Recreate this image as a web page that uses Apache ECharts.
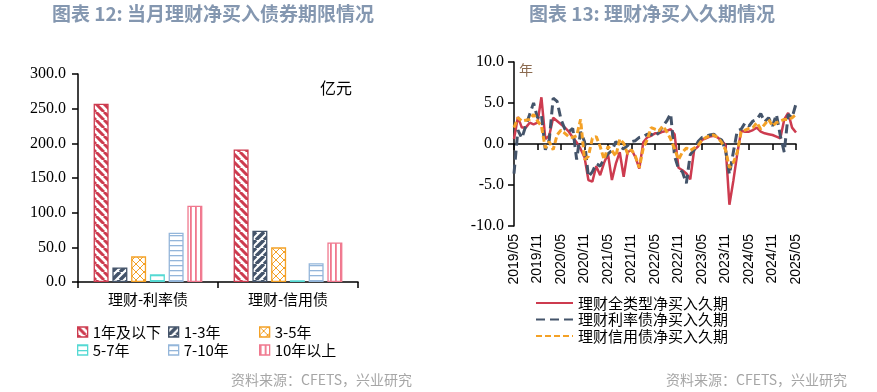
<!DOCTYPE html>
<html><head><meta charset="utf-8">
<script src="https://cdn.jsdelivr.net/npm/echarts@6/dist/echarts.min.js"></script>
<style>html,body{margin:0;padding:0;background:#fff}#c{width:877px;height:392px}</style>
</head><body><div id="c"></div>
<script>
// ---------- Left chart data (亿元) ----------
const barCategories = ['理财-利率债', '理财-信用债'];
const termNames = ['1年及以下', '1-3年', '3-5年', '5-7年', '7-10年', '10年以上'];
const term1yAndBelow = [257, 191];
const term1to3y = [21, 74];
const term3to5y = [37, 50];
const term5to7y = [11, 2.5];
const term7to10y = [71, 27];
const term10yPlus = [110, 57];

// ---------- Right chart data (年) ----------
const months = [
 '2019/05','2019/06','2019/07','2019/08','2019/09','2019/10','2019/11','2019/12',
 '2020/01','2020/02','2020/03','2020/04','2020/05','2020/06','2020/07','2020/08','2020/09','2020/10','2020/11','2020/12',
 '2021/01','2021/02','2021/03','2021/04','2021/05','2021/06','2021/07','2021/08','2021/09','2021/10','2021/11','2021/12',
 '2022/01','2022/02','2022/03','2022/04','2022/05','2022/06','2022/07','2022/08','2022/09','2022/10','2022/11','2022/12',
 '2023/01','2023/02','2023/03','2023/04','2023/05','2023/06','2023/07','2023/08','2023/09','2023/10','2023/11','2023/12',
 '2024/01','2024/02','2024/03','2024/04','2024/05','2024/06','2024/07','2024/08','2024/09','2024/10','2024/11','2024/12',
 '2025/01','2025/02','2025/03','2025/04','2025/05'];
const durationAll = [
 0.6,3.3,2.0,2.0,2.6,2.4,2.6,5.7,0.6,1.0,3.2,2.8,2.4,2.0,1.5,0.8,0.2,-0.6,-1.6,-4.4,
 -4.6,-2.7,-3.8,-2.3,-1.2,-4.4,-2.4,-1.0,-4.0,-1.0,-0.7,-1.6,-3.0,0.2,0.8,1.0,1.3,1.3,1.5,1.6,
 1.8,1.2,-2.9,-3.2,-3.6,-4.3,-0.7,-0.3,0.5,0.7,0.9,1.0,0.8,0.4,-0.1,-7.4,-4.5,-1.2,1.6,1.5,
 1.5,1.7,2.0,1.5,1.3,1.2,1.1,0.9,0.7,3.0,3.8,2.0,1.4];
const durationRate = [
 -3.6,1.7,0.7,2.2,3.6,5.0,3.2,3.6,-0.7,0.5,5.6,5.2,3.0,1.8,1.5,1.9,-1.9,1.5,0.3,-4.0,
 -3.4,-2.4,-2.7,-1.8,-1.2,-0.8,0.3,-0.3,-0.6,-0.2,0.3,0.4,0.8,0.9,1.2,1.2,0.9,1.4,2.2,2.8,
 3.7,-1.5,-3.0,-3.4,-4.8,-1.3,-0.7,0.3,0.8,0.9,1.1,1.2,0.8,0.5,-0.7,-3.7,-1.0,1.6,1.8,2.6,
 2.2,2.8,3.0,3.7,2.7,3.2,2.2,3.6,1.0,-1.0,3.6,3.2,4.9];
const durationCredit = [
 2.0,3.2,2.8,2.9,3.0,3.6,2.8,2.2,-0.5,0.3,-0.7,1.1,1.7,1.3,0.9,0.8,1.0,3.0,-1.9,-1.5,
 0.7,0.9,-0.3,-1.9,-0.3,-0.8,-1.5,0.6,0.1,-1.2,-0.7,-1.5,-2.9,-0.5,0.5,2.0,1.8,1.6,2.2,1.5,
 0.6,-0.6,-1.9,-1.0,-0.5,-0.8,-0.5,-0.2,0.5,0.8,1.0,1.1,0.8,0.2,-0.7,-2.9,-2.3,-1.0,1.5,1.7,
 1.9,2.0,2.6,1.8,2.4,3.0,2.2,2.6,2.8,3.0,3.0,3.2,3.6];
const lineNames = ['理财全类型净买入久期', '理财利率债净买入久期', '理财信用债净买入久期'];

// ---------- patterns ----------
function tile(w, h, draw) {
  const c = document.createElement('canvas'); c.width = w; c.height = h;
  const g = c.getContext('2d'); g.fillStyle = '#fff'; g.fillRect(0, 0, w, h); draw(g, w, h);
  return { image: c, repeat: 'repeat' };
}
function diag(color, s, lw, dir) {
  return tile(s, s, g => {
    g.strokeStyle = color; g.lineWidth = lw; g.beginPath();
    for (let k = -1; k <= 1; k++) {
      if (dir > 0) { g.moveTo(k * s, 0); g.lineTo(k * s + s, s); }
      else { g.moveTo(k * s, s); g.lineTo(k * s + s, 0); }
    }
    g.stroke();
  });
}
function lattice(color, s, lw) {
  return tile(s, s, g => {
    g.strokeStyle = color; g.lineWidth = lw; g.beginPath();
    for (let k = -1; k <= 1; k++) {
      g.moveTo(k * s, 0); g.lineTo(k * s + s, s);
      g.moveTo(k * s, s); g.lineTo(k * s + s, 0);
    }
    g.stroke();
  });
}
function hlines(color, p, lw) { return tile(4, p, (g) => { g.fillStyle = color; g.fillRect(0, 0, 4, lw); }); }
function vlines(color, p, lw) { return tile(p, 4, (g) => { g.fillStyle = color; g.fillRect(0, 0, lw, 4); }); }

const C_RED = '#cd3b4f', C_NAVY = '#44546a', C_ORANGE = '#f4a126', C_CYAN = '#55d9d3', C_LBLUE = '#94b6da', C_PINK = '#f0788e';
const barColors = [C_RED, C_NAVY, C_ORANGE, C_CYAN, C_LBLUE, C_PINK];
const barFills = [
  diag(C_RED, 8, 3, 1), diag(C_NAVY, 8, 3.5, -1), lattice(C_ORANGE, 8, 1),
  hlines(C_CYAN, 5, 1.3), hlines(C_LBLUE, 5, 1.3), vlines(C_PINK, 5, 1.8)
];
const barData = [term1yAndBelow, term1to3y, term3to5y, term5to7y, term7to10y, term10yPlus];

const SERIF = '"Liberation Serif","Times New Roman",serif';
const CJK = '"Noto Sans CJK SC",sans-serif';
const SANS = '"Liberation Sans",Arial,sans-serif';

const chart = echarts.init(document.getElementById('c'));
const legendX = [77, 168, 259], legendY = [323, 341];

const option = {
  animation: false,
  backgroundColor: '#fff',
  grid: [
    { left: 78, top: 74, width: 280, height: 208 },
    { left: 514, top: 62, width: 282, height: 164 }
  ],
  xAxis: [
    { gridIndex: 0, type: 'category', data: barCategories,
      axisLine: { lineStyle: { color: '#000', width: 1.5 } },
      axisTick: { show: true, length: 6, lineStyle: { color: '#000', width: 1.5 } },
      axisLabel: { color: '#000', fontFamily: CJK, fontSize: 15, margin: 10 } },
    { gridIndex: 1, type: 'category', data: months, boundaryGap: false, position: 'bottom',
      axisLine: { show: false, onZero: false }, axisTick: { show: false },
      axisLabel: { interval: 5, rotate: 90, margin: 8, fontFamily: SANS, fontSize: 14, color: '#000' } },
    { gridIndex: 1, type: 'category', data: months, boundaryGap: false, position: 'bottom',
      axisLine: { onZero: true, lineStyle: { color: '#000', width: 1.5 } },
      axisTick: { interval: 5, length: 6, lineStyle: { color: '#000', width: 1.5 } },
      axisLabel: { show: false } }
  ],
  yAxis: [
    { gridIndex: 0, type: 'value', min: 0, max: 300, interval: 50,
      axisLine: { show: true, lineStyle: { color: '#000', width: 1.5 } },
      axisTick: { show: true, length: 6, lineStyle: { color: '#000', width: 1.5 } },
      splitLine: { show: false },
      axisLabel: { formatter: v => v.toFixed(1), fontFamily: SERIF, fontSize: 16, color: '#000', margin: 12 } },
    { gridIndex: 1, type: 'value', min: -10, max: 10, interval: 5,
      axisLine: { show: true, lineStyle: { color: '#000', width: 1.5 } },
      axisTick: { show: true, length: 6, lineStyle: { color: '#000', width: 1.5 } },
      splitLine: { show: false },
      axisLabel: { formatter: v => v.toFixed(1), fontFamily: SERIF, fontSize: 16, color: '#000', margin: 10 } }
  ],
  legend: termNames.map((n, i) => ({
    data: [n], left: legendX[i % 3], top: legendY[Math.floor(i / 3)], padding: 0,
    icon: 'rect', itemWidth: 10, itemHeight: 10, selectedMode: false,
    itemStyle: { borderWidth: 1.3 },
    textStyle: { fontFamily: CJK, fontSize: 15, color: '#000', lineHeight: 18 }
  })).concat([{
    data: lineNames, orient: 'vertical', left: 535, top: 295, padding: 0, itemGap: 0.5,
    itemWidth: 37, itemHeight: 10, selectedMode: false,
    itemStyle: { opacity: 0 },
    textStyle: { fontFamily: CJK, fontSize: 15, color: '#000', lineHeight: 16 }
  }]),
  series: termNames.map((n, i) => ({
    name: n, type: 'bar', xAxisIndex: 0, yAxisIndex: 0, data: barData[i],
    barWidth: 15, barGap: '25%',
    itemStyle: { color: barFills[i], borderColor: barColors[i], borderWidth: 1.3 }
  })).concat([
    { name: lineNames[0], type: 'line', xAxisIndex: 1, yAxisIndex: 1, data: durationAll,
      symbol: 'none', lineStyle: { color: C_RED, width: 2.5 }, itemStyle: { color: C_RED } },
    { name: lineNames[1], type: 'line', xAxisIndex: 1, yAxisIndex: 1, data: durationRate,
      symbol: 'none', lineStyle: { color: C_NAVY, width: 3, type: [9, 5] }, itemStyle: { color: C_NAVY } },
    { name: lineNames[2], type: 'line', xAxisIndex: 1, yAxisIndex: 1, data: durationCredit,
      symbol: 'none', lineStyle: { color: C_ORANGE, width: 3, type: [6, 3] }, itemStyle: { color: C_ORANGE } }
  ]),
  graphic: [
    { type: 'text', x: 213, y: 14, style: { text: '图表 12: 当月理财净买入债券期限情况', font: 'bold 19px "Noto Sans CJK SC"', fill: '#8497b0', align: 'center', verticalAlign: 'middle' } },
    { type: 'text', x: 652, y: 14, style: { text: '图表 13: 理财净买入久期情况', font: 'bold 19px "Noto Sans CJK SC"', fill: '#8497b0', align: 'center', verticalAlign: 'middle' } },
    { type: 'text', x: 336, y: 88, style: { text: '亿元', font: '16px "Noto Sans CJK SC"', fill: '#000', align: 'center', verticalAlign: 'middle' } },
    { type: 'text', x: 526, y: 70, style: { text: '年', font: '14px "Noto Sans CJK SC"', fill: '#8b6a4f', align: 'center', verticalAlign: 'middle' } },
    { type: 'text', x: 412, y: 380, style: { text: '资料来源：CFETS，兴业研究', font: '14px "Noto Sans CJK SC"', fill: '#a6a6a6', align: 'right', verticalAlign: 'middle' } },
    { type: 'text', x: 847, y: 380, style: { text: '资料来源：CFETS，兴业研究', font: '14px "Noto Sans CJK SC"', fill: '#a6a6a6', align: 'right', verticalAlign: 'middle' } }
  ]
};
chart.setOption(option);
</script>
</body></html>
